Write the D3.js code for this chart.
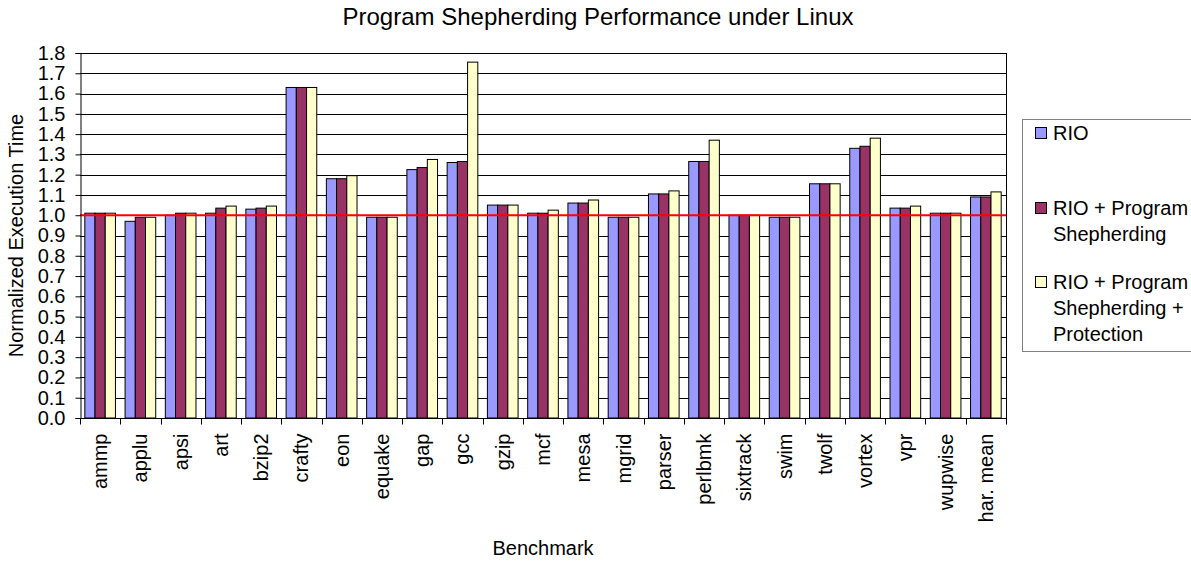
<!DOCTYPE html>
<html>
<head>
<meta charset="utf-8">
<script src="https://cdn.jsdelivr.net/npm/d3@7"></script>
<style>
  body { margin: 0; background: #fff; }
  text { font-family: "Liberation Sans", Arial, sans-serif; fill: #000; }
</style>
</head>
<body>
<script>
const w = 1191;
const h = 565;

const benchmarks = ["ammp", "applu", "apsi", "art", "bzip2", "crafty", "eon", "equake", "gap", "gcc",
  "gzip", "mcf", "mesa", "mgrid", "parser", "perlbmk", "sixtrack", "swim", "twolf", "vortex",
  "vpr", "wupwise", "har. mean"];

const rio =          [1.01, 0.97, 1.00, 1.01, 1.03, 1.63, 1.18, 0.99, 1.225, 1.26, 1.05, 1.01, 1.06, 0.99, 1.105, 1.265, 1.00, 0.99, 1.155, 1.33, 1.035, 1.01, 1.09];
const rioShep =      [1.01, 0.99, 1.01, 1.035, 1.035, 1.63, 1.18, 0.99, 1.235, 1.265, 1.05, 1.01, 1.06, 0.99, 1.105, 1.265, 1.00, 0.99, 1.155, 1.34, 1.035, 1.01, 1.09];
const rioShepProt =  [1.01, 0.99, 1.01, 1.045, 1.045, 1.63, 1.195, 0.99, 1.275, 1.755, 1.05, 1.025, 1.075, 0.99, 1.12, 1.37, 1.00, 0.99, 1.155, 1.38, 1.045, 1.01, 1.115];

const seriesNames = ["RIO", "RIO + Program Shepherding", "RIO + Program Shepherding + Protection"];
const legendLines = [["RIO"], ["RIO + Program", "Shepherding"], ["RIO + Program", "Shepherding +", "Protection"]];
const colors = ["#9999ff", "#993366", "#ffffcc"];
const yTicks = d3.range(0, 19).map(d => d / 10);

const plot = { left: 80, right: 1006, top: 53, bottom: 418 };

const svg = d3.select("body").append("svg").attr("width", w).attr("height", h);

const xScale = d3.scaleBand()
  .domain(benchmarks)
  .range([plot.left, plot.right])
  .paddingInner(0)
  .paddingOuter(0);

const yScale = d3.scaleLinear()
  .domain([0, 1.8])
  .range([plot.bottom, plot.top]);

const xSub = d3.scaleBand()
  .domain([0, 1, 2])
  .range([0, xScale.bandwidth()])
  .paddingOuter(0.47)
  .paddingInner(0);

// gridlines
svg.append("g")
  .selectAll("line")
  .data(yTicks.slice(1))
  .enter()
  .append("line")
  .attr("x1", plot.left)
  .attr("x2", plot.right)
  .attr("y1", d => Math.round(yScale(d)) + 0.5)
  .attr("y2", d => Math.round(yScale(d)) + 0.5)
  .attr("stroke", "#000")
  .attr("stroke-width", 1);

// right border
svg.append("line")
  .attr("x1", plot.right + 0.5).attr("x2", plot.right + 0.5)
  .attr("y1", plot.top).attr("y2", plot.bottom)
  .attr("stroke", "#000");

// bars
const allSeries = [rio, rioShep, rioShepProt];
const groups = svg.append("g").attr("class", "bars")
  .selectAll("g")
  .data(benchmarks)
  .enter()
  .append("g")
  .attr("transform", d => "translate(" + xScale(d) + ",0)");

groups.selectAll("rect")
  .data((d, i) => allSeries.map((s, k) => ({ k: k, v: s[i] })))
  .enter()
  .append("rect")
  .attr("x", d => xSub(d.k))
  .attr("width", xSub.bandwidth())
  .attr("y", d => yScale(d.v))
  .attr("height", d => yScale(0) - yScale(d.v))
  .attr("fill", d => colors[d.k])
  .attr("stroke", "#000")
  .attr("stroke-width", 1);

// red reference line at 1.0
svg.append("line")
  .attr("x1", plot.left)
  .attr("x2", plot.right)
  .attr("y1", yScale(1.0))
  .attr("y2", yScale(1.0))
  .attr("stroke", "#ff0000")
  .attr("stroke-width", 2);

// y axis
const yAxis = d3.axisLeft(yScale)
  .tickValues(yTicks)
  .tickFormat(d3.format(".1f"))
  .tickSize(5)
  .tickPadding(10);

svg.append("g")
  .attr("transform", "translate(" + (plot.left + 0.5) + ",0)")
  .call(yAxis)
  .call(g => g.select(".domain").attr("stroke", "#000"))
  .call(g => g.selectAll("text").attr("font-size", 20).style("font-family", "Liberation Sans, Arial, sans-serif"));

// x axis: ticks at category boundaries
const xAxisG = svg.append("g")
  .attr("transform", "translate(0," + (plot.bottom + 0.5) + ")");

xAxisG.append("line")
  .attr("x1", plot.left).attr("x2", plot.right + 1)
  .attr("stroke", "#000");

xAxisG.selectAll(".tick-mark")
  .data(benchmarks.concat(["__end"]))
  .enter()
  .append("line")
  .attr("class", "tick-mark")
  .attr("x1", (d, i) => Math.round(i < benchmarks.length ? xScale(d) : plot.right) + 0.5)
  .attr("x2", (d, i) => Math.round(i < benchmarks.length ? xScale(d) : plot.right) + 0.5)
  .attr("y1", 0)
  .attr("y2", 6)
  .attr("stroke", "#000");

xAxisG.selectAll(".xlabel")
  .data(benchmarks)
  .enter()
  .append("text")
  .attr("class", "xlabel")
  .attr("transform", d => "translate(" + (xScale(d) + xScale.bandwidth() / 2 + 7) + ",15) rotate(-90)")
  .attr("text-anchor", "end")
  .attr("font-size", 20)
  .text(d => d);

// title
svg.append("text")
  .attr("x", 598)
  .attr("y", 25)
  .attr("text-anchor", "middle")
  .attr("font-size", 24)
  .text("Program Shepherding Performance under Linux");

// axis titles
svg.append("text")
  .attr("x", 543)
  .attr("y", 555)
  .attr("text-anchor", "middle")
  .attr("font-size", 20)
  .text("Benchmark");

svg.append("text")
  .attr("transform", "translate(23," + ((plot.top + plot.bottom) / 2) + ") rotate(-90)")
  .attr("text-anchor", "middle")
  .attr("font-size", 20)
  .text("Normalized Execution Time");

// legend
const legend = svg.append("g").attr("class", "legend");
legend.append("rect")
  .attr("x", 1022.5)
  .attr("y", 119.5)
  .attr("width", 180)
  .attr("height", 232)
  .attr("fill", "#fff")
  .attr("stroke", "#808080");

const itemTop = [133, 208, 282];
const lineH = 26;

legendLines.forEach((lines, k) => {
  legend.append("rect")
    .attr("x", 1035.5)
    .attr("y", itemTop[k] - 5.5)
    .attr("width", 11)
    .attr("height", 11)
    .attr("fill", colors[k])
    .attr("stroke", "#000");
  lines.forEach((t, j) => {
    legend.append("text")
      .attr("x", 1053)
      .attr("y", itemTop[k] + j * lineH + 7)
      .attr("font-size", 20)
      .text(t);
  });
});
</script>
</body>
</html>
